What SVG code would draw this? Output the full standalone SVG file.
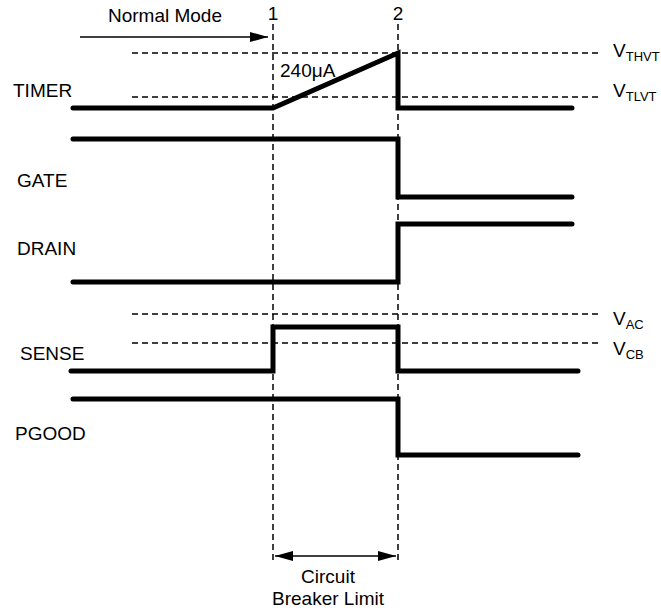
<svg xmlns="http://www.w3.org/2000/svg" width="661" height="613" viewBox="0 0 661 613">
<style>
text{font-family:"Liberation Sans",Arial,sans-serif;font-size:19px;fill:#000}
.sub{font-size:13px}
.dash{stroke:#000;stroke-width:1.5;stroke-dasharray:6 4;fill:none}
.wave{stroke:#000;stroke-width:5;fill:none;stroke-linecap:round;stroke-linejoin:miter}
.arr{stroke:#000;stroke-width:1.5;fill:none}
</style>
<defs>
<marker id="ah" markerWidth="18" markerHeight="12" refX="18" refY="6" orient="auto-start-reverse" markerUnits="userSpaceOnUse">
<path d="M0,1 L18,6 L0,11 Z" fill="#000"/>
</marker>
</defs>
<rect width="661" height="613" fill="#fff"/>
<g id="connectors">
<line class="dash" x1="273" y1="24" x2="273" y2="560"/>
<line class="dash" x1="398" y1="24" x2="398" y2="560"/>
<line class="dash" x1="132" y1="53" x2="602" y2="53"/>
<line class="dash" x1="132" y1="97" x2="602" y2="97"/>
<line class="dash" x1="132" y1="314" x2="602" y2="314"/>
<line class="dash" x1="132" y1="343" x2="602" y2="343"/>
<line class="arr" x1="80" y1="37" x2="268" y2="37" marker-end="url(#ah)"/>
<line class="arr" x1="275" y1="556" x2="396" y2="556" marker-start="url(#ah)" marker-end="url(#ah)"/>
</g>
<g id="timer">
<text x="13" y="97">TIMER</text>
<polyline class="wave" points="73,108 273,108 398,53 398,108 572,108"/>
<text x="280" y="77">240μA</text>
</g>
<g id="gate">
<text x="17" y="187">GATE</text>
<polyline class="wave" points="73,139 398,139 398,197 572,197"/>
</g>
<g id="drain">
<text x="17" y="255">DRAIN</text>
<polyline class="wave" points="73,282 398,282 398,224 572,224"/>
</g>
<g id="sense">
<text x="20" y="360">SENSE</text>
<polyline class="wave" points="71,371 273,371 273,327 398,327 398,371 578,371"/>
</g>
<g id="pgood">
<text x="15" y="440">PGOOD</text>
<polyline class="wave" points="73,399 398,399 398,455 578,455"/>
</g>
<g id="labels">
<text x="165" y="22" text-anchor="middle">Normal Mode</text>
<text x="273" y="20" text-anchor="middle">1</text>
<text x="398" y="20" text-anchor="middle">2</text>
<text x="613" y="57">V<tspan class="sub" dy="4">THVT</tspan></text>
<text x="613" y="97">V<tspan class="sub" dy="4">TLVT</tspan></text>
<text x="613" y="325">V<tspan class="sub" dy="4">AC</tspan></text>
<text x="613" y="355">V<tspan class="sub" dy="4">CB</tspan></text>
<text x="328" y="583" text-anchor="middle">Circuit</text>
<text x="328" y="605" text-anchor="middle">Breaker Limit</text>
</g>
</svg>
